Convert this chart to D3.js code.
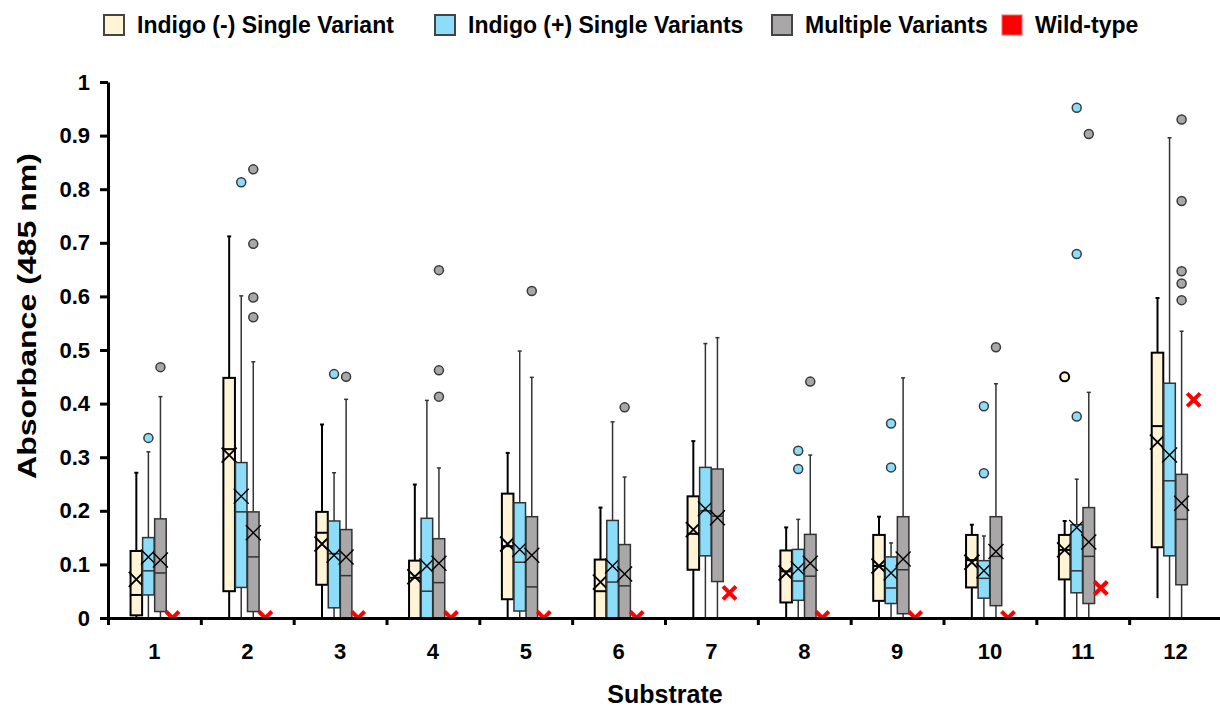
<!DOCTYPE html>
<html>
<head>
<meta charset="utf-8">
<script src="https://cdn.jsdelivr.net/npm/d3@7"></script>
<style>
  html, body { margin: 0; padding: 0; background: #ffffff; }
  svg { display: block; font-family: "Liberation Sans", Arial, sans-serif; }
</style>
</head>
<body>
<svg id="chart" width="1220" height="708"></svg>
<script>
// ---------------- DATA ----------------
const categories = ["1","2","3","4","5","6","7","8","9","10","11","12"];
const seriesNames = ["Indigo (-) Single Variant", "Indigo (+) Single Variants", "Multiple Variants", "Wild-type"];
const yTicks = [0, 0.1, 0.2, 0.3, 0.4, 0.5, 0.6, 0.7, 0.8, 0.9, 1];
const yTickLabels = ["0", "0.1", "0.2", "0.3", "0.4", "0.5", "0.6", "0.7", "0.8", "0.9", "1"];

// box stats per category: [whiskerLow, q1, median, q3, whiskerHigh]
const indigoNegBox = [
  [0, 0.005, 0.043, 0.125, 0.271],
  [0, 0.050, 0.315, 0.448, 0.712],
  [0, 0.062, 0.159, 0.198, 0.361],
  [0, 0.000, 0.075, 0.107, 0.249],
  [0, 0.035, 0.134, 0.232, 0.308],
  [0, 0.000, 0.050, 0.109, 0.206],
  [0, 0.090, 0.157, 0.227, 0.330],
  [0, 0.029, 0.087, 0.126, 0.169],
  [0, 0.032, 0.097, 0.155, 0.189],
  [0, 0.057, 0.108, 0.155, 0.174],
  [0, 0.072, 0.127, 0.155, 0.181],
  [0.037, 0.132, 0.358, 0.495, 0.597]
];
const indigoNegMean = [0.072, 0.304, 0.138, 0.077, 0.138, 0.067, 0.165, 0.084, 0.097, 0.104, 0.127, 0.328];
const indigoNegOutliers = [[], [], [], [], [], [], [], [], [], [], [0.450], []];

const indigoPosBox = [
  [0, 0.043, 0.088, 0.150, 0.310],
  [0, 0.057, 0.198, 0.290, 0.601],
  [0, 0.019, 0.120, 0.181, 0.271],
  [0, 0.000, 0.050, 0.186, 0.406],
  [0, 0.013, 0.104, 0.215, 0.498],
  [0, 0.000, 0.067, 0.182, 0.366],
  [0, 0.116, 0.200, 0.281, 0.512],
  [0, 0.033, 0.069, 0.128, 0.184],
  [0, 0.027, 0.056, 0.114, 0.140],
  [0, 0.037, 0.074, 0.107, 0.153],
  [0, 0.047, 0.088, 0.174, 0.259],
  [0, 0.116, 0.256, 0.438, 0.896]
];
const indigoPosMean = [0.114, 0.227, 0.117, 0.097, 0.128, 0.097, 0.204, 0.092, 0.084, 0.088, 0.169, 0.304];
const indigoPosOutliers = [[0.336], [0.813], [0.455], [], [], [], [], [0.312, 0.278], [0.363, 0.281], [0.395, 0.270], [0.952, 0.679, 0.376], []];

const multipleBox = [
  [0, 0.012, 0.084, 0.185, 0.413],
  [0, 0.012, 0.114, 0.198, 0.478],
  [0, 0.000, 0.079, 0.165, 0.408],
  [0, 0.000, 0.066, 0.148, 0.280],
  [0, 0.000, 0.058, 0.189, 0.449],
  [0, 0.000, 0.060, 0.137, 0.263],
  [0, 0.068, 0.190, 0.278, 0.523],
  [0, 0.000, 0.078, 0.156, 0.304],
  [0, 0.008, 0.090, 0.189, 0.448],
  [0, 0.023, 0.115, 0.189, 0.437],
  [0, 0.027, 0.115, 0.206, 0.421],
  [0, 0.062, 0.184, 0.268, 0.535]
];
const multipleMean = [0.108, 0.159, 0.114, 0.102, 0.117, 0.082, 0.187, 0.102, 0.110, 0.124, 0.142, 0.214];
const multipleOutliers = [[0.468], [0.837, 0.698, 0.598, 0.561], [0.450], [0.649, 0.462, 0.413], [0.610], [0.393], [], [0.441], [], [0.505], [0.903], [0.930, 0.778, 0.647, 0.624, 0.593]];

const wildType = [0, 0, 0, 0, 0, 0, 0.047, 0, 0, 0, 0.056, 0.407];

// ---------------- STYLE ----------------
const fills = ["#FFF4D6", "#8BDDF9", "#A9A7A7", "#FF0000"];
const strokes = ["#000000", "#333333", "#333333"];
const strokeW = [2, 1.5, 1.5];
const legendX = [104, 435, 772, 1002];

// ---------------- CHART ----------------
const svg = d3.select("#chart");
const x = d3.scaleBand().domain(categories).range([108, 1222]).padding(0);
const xs = d3.scaleBand().domain(seriesNames).range([0, x.bandwidth()]).paddingInner(0).paddingOuter(1.85);
const y = d3.scaleLinear().domain([0, 1]).range([618, 82]);
const xb = d3.scaleLinear().domain([0, categories.length]).range([108, 1222]);

svg.append("defs").append("clipPath").attr("id", "plotclip")
  .append("rect").attr("x", 108).attr("y", 60).attr("width", 1112).attr("height", 618 - 60);

const boxSeries = [
  {box: indigoNegBox, mean: indigoNegMean, out: indigoNegOutliers},
  {box: indigoPosBox, mean: indigoPosMean, out: indigoPosOutliers},
  {box: multipleBox, mean: multipleMean, out: multipleOutliers}
];

const bw = xs.bandwidth() - 0.5;
const plot = svg.append("g");

boxSeries.forEach((s, si) => {
  const g = plot.append("g");
  categories.forEach((c, ci) => {
    const [lo, q1, med, q3, hi] = s.box[ci];
    const cx = x(c) + xs(seriesNames[si]) + xs.bandwidth() / 2;
    const st = strokes[si], sw = strokeW[si];
    // whiskers
    g.append("line").attr("x1", cx).attr("x2", cx).attr("y1", y(q3)).attr("y2", y(hi))
      .attr("stroke", st).attr("stroke-width", sw);
    g.append("line").attr("x1", cx - 2).attr("x2", cx + 2).attr("y1", y(hi)).attr("y2", y(hi))
      .attr("stroke", st).attr("stroke-width", sw);
    if (q1 > lo) {
      g.append("line").attr("x1", cx).attr("x2", cx).attr("y1", y(q1)).attr("y2", y(lo))
        .attr("stroke", st).attr("stroke-width", sw);
    }
    // box
    g.append("rect").attr("x", cx - bw / 2).attr("width", bw)
      .attr("y", y(q3)).attr("height", y(q1) - y(q3))
      .attr("fill", fills[si]).attr("stroke", st).attr("stroke-width", sw);
    // median
    g.append("line").attr("x1", cx - bw / 2).attr("x2", cx + bw / 2).attr("y1", y(med)).attr("y2", y(med))
      .attr("stroke", st).attr("stroke-width", sw);
    // mean X
    const my = y(s.mean[ci]), m = 7.5;
    g.append("path").attr("d", `M${cx - m},${my - m}L${cx + m},${my + m}M${cx - m},${my + m}L${cx + m},${my - m}`)
      .attr("stroke", "#000").attr("stroke-width", si === 0 ? 1.9 : 1.4).attr("fill", "none");
    // outliers
    s.out[ci].forEach(v => {
      g.append("circle").attr("cx", cx).attr("cy", y(v)).attr("r", 4.5)
        .attr("fill", fills[si]).attr("stroke", si === 0 ? "#000" : "#3a3a3a").attr("stroke-width", si === 0 ? 2 : 1.5);
    });
  });
});

// wild-type markers
const wt = plot.append("g").attr("clip-path", "url(#plotclip)");
categories.forEach((c, ci) => {
  const cx = x(c) + xs(seriesNames[3]) + xs.bandwidth() / 2;
  const cy = y(wildType[ci]), m = 6.5;
  wt.append("path").attr("d", `M${cx - m},${cy - m}L${cx + m},${cy + m}M${cx - m},${cy + m}L${cx + m},${cy - m}`)
    .attr("stroke", fills[3]).attr("stroke-width", 4).attr("fill", "none");
});

// axes
const yAxis = svg.append("g").attr("transform", "translate(108,0)")
  .call(d3.axisLeft(y).tickValues(yTicks).tickFormat((d, i) => yTickLabels[i]).tickSize(8).tickSizeOuter(0).tickPadding(10));
yAxis.select(".domain").attr("stroke", "#000").attr("stroke-width", 3);
yAxis.selectAll(".tick line").attr("stroke", "#000").attr("stroke-width", 3);
yAxis.selectAll(".tick text").attr("font-size", 22).attr("font-weight", "bold").attr("fill", "#000")
  .attr("font-family", "Liberation Sans, Arial, sans-serif");

const xBound = svg.append("g").attr("transform", "translate(0,618)")
  .call(d3.axisBottom(xb).tickValues(d3.range(0, categories.length + 1)).tickFormat("").tickSize(7).tickSizeOuter(0));
xBound.select(".domain").attr("stroke", "#000").attr("stroke-width", 3);
xBound.selectAll(".tick line").attr("stroke", "#000").attr("stroke-width", 3);

const xAxis = svg.append("g").attr("transform", "translate(0,618)")
  .call(d3.axisBottom(x).tickSize(0).tickPadding(25));
xAxis.select(".domain").remove();
xAxis.selectAll(".tick text").attr("font-size", 22).attr("font-weight", "bold").attr("fill", "#000")
  .attr("font-family", "Liberation Sans, Arial, sans-serif");

// axis titles
svg.append("text").attr("x", 665).attr("y", 703).attr("text-anchor", "middle")
  .attr("font-size", 25).attr("font-weight", "bold").text("Substrate");
svg.append("text").attr("transform", "translate(36,316) rotate(-90)").attr("text-anchor", "middle")
  .attr("font-size", 26).attr("font-weight", "bold")
  .attr("textLength", 326).attr("lengthAdjust", "spacingAndGlyphs")
  .text("Absorbance (485 nm)");

// legend
const leg = svg.append("g");
seriesNames.forEach((n, i) => {
  leg.append("rect").attr("x", legendX[i]).attr("y", 15).attr("width", 20).attr("height", 20)
    .attr("fill", fills[i]).attr("stroke", i === 3 ? "#FF6666" : "#444").attr("stroke-width", i === 3 ? 1 : 2);
  leg.append("text").attr("x", legendX[i] + 33).attr("y", 33).attr("font-size", 23).attr("font-weight", "bold")
    .text(n);
});
</script>
</body>
</html>
